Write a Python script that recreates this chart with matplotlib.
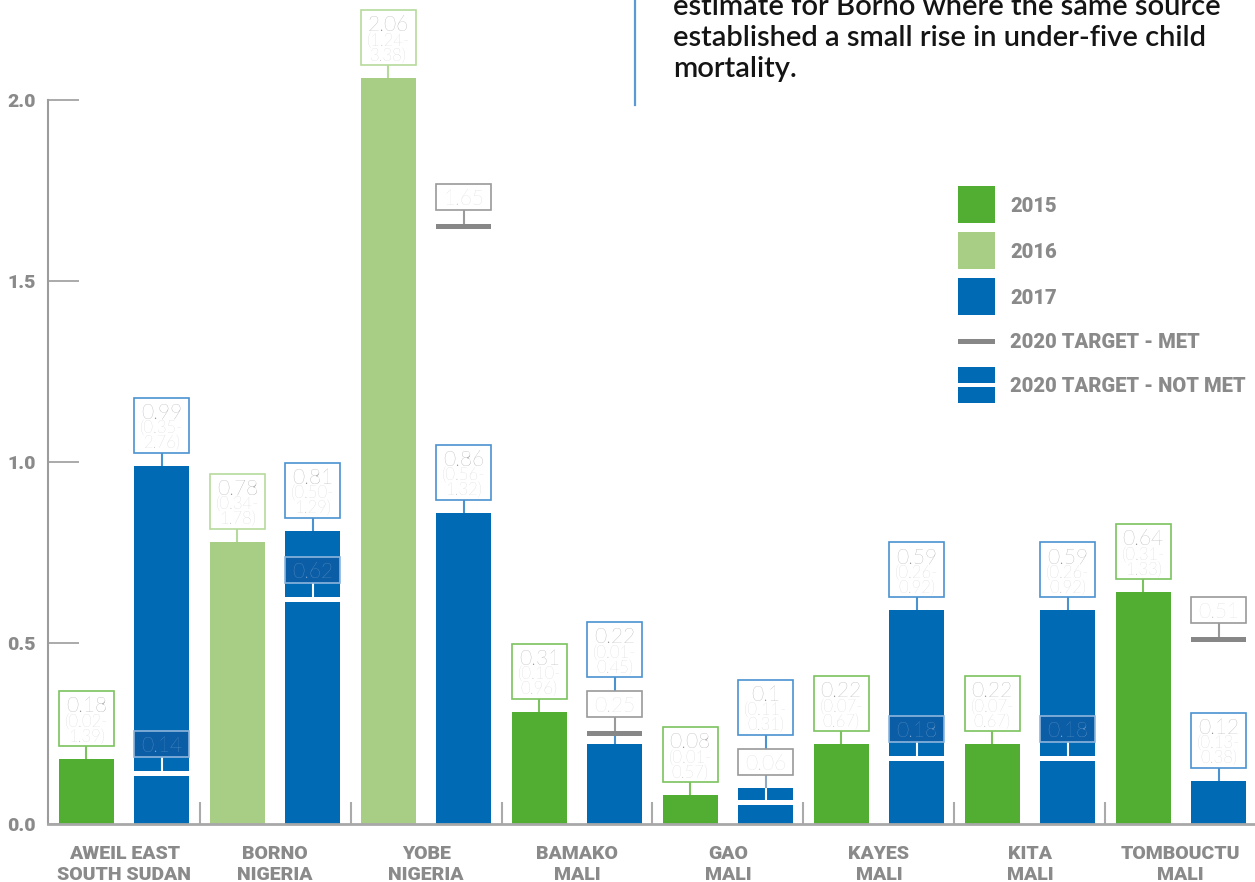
import matplotlib
matplotlib.use('Agg')
import matplotlib.pyplot as plt
from matplotlib.patches import Rectangle

# ---------------- data ----------------
regions = ['AWEIL EAST\nSOUTH SUDAN', 'BORNO\nNIGERIA', 'YOBE\nNIGERIA', 'BAMAKO\nMALI',
           'GAO\nMALI', 'KAYES\nMALI', 'KITA\nMALI', 'TOMBOUCTU\nMALI']
first_year = ['2015', '2016', '2016', '2015', '2015', '2015', '2015', '2015']
first_val = [0.18, 0.78, 2.06, 0.31, 0.08, 0.22, 0.22, 0.64]
first_lo = [0.02, 0.34, 1.24, 0.10, 0.01, 0.07, 0.07, 0.31]
first_hi = [1.39, 1.78, 3.38, 0.96, 0.57, 0.67, 0.67, 1.33]
val_2017 = [0.99, 0.81, 0.86, 0.22, 0.10, 0.59, 0.59, 0.12]
lo_2017 = [0.35, 0.50, 0.56, 0.01, 0.11, 0.26, 0.26, 0.13]
hi_2017 = [2.76, 1.29, 1.32, 0.45, 0.31, 0.92, 0.92, 0.38]
target_2020 = [0.14, 0.62, 1.65, 0.25, 0.06, 0.18, 0.18, 0.51]
target_met = [False, False, True, True, False, False, False, True]
yticks = [0.0, 0.5, 1.0, 1.5, 2.0]
ytick_labels = ['0.0', '0.5', '1.0', '1.5', '2.0']
legend_labels = ['2015', '2016', '2017', '2020 TARGET - MET', '2020 TARGET - NOT MET']
note_lines = ['estimate for Borno where the same source',
              'established a small rise in under-five child',
              'mortality.']

# ---------------- style ----------------
C2015 = '#52AE32'
C2016 = '#A8CE86'
C2017 = '#006AB4'
CMET = '#878787'
EDGE = {'2015': '#7CC35F', '2016': '#B6DA9C', '2017': '#4A92D0'}
BARC = {'2015': C2015, '2016': C2016, '2017': C2017}
VAL_C = '#8E8E8E'
RANGE_C = '#C4C4C4'
TGT_TXT = '#CFCFCF'
TGT_EDGE = '#9A9A9A'
IN_FILL = '#0B5DA5'
IN_EDGE = '#8DB5DD'
IN_TXT = '#86ADD8'
AXC = '#9C9C9C'
LABC = '#8A8A8A'
LATO = ['Lato', 'DejaVu Sans']
COND = ['Roboto', 'DejaVu Sans']

W_PX, H_PX = 1255, 882
fig = plt.figure(figsize=(W_PX / 100, H_PX / 100), dpi=100)
ax_left, ax_bottom, ax_right, ax_top = 48, 824, 1255, 0
ax = fig.add_axes([ax_left / W_PX, (H_PX - ax_bottom) / H_PX,
                   (ax_right - ax_left) / W_PX, (ax_bottom - ax_top) / H_PX])
PY = 1 / 362.0
PX = 1 / 75.5
ax.set_ylim(0, (ax_bottom - ax_top) * PY)
ax.set_xlim(-38.5 * PX, 15 + (1255 - 1218.5) * PX)

BW = 55 * PX
GAP = 13 * PY
H3 = 55 * PY
H1 = 26 * PY
MK = 2.6 * PY


def vline(x, y0, y1, color, lw=1.5, z=4):
    ax.plot([x, x], [y0, y1], color=color, lw=lw, zorder=z, solid_capstyle='butt')


def value_box(x, bottom, txt, lo, hi, edge):
    ax.add_patch(Rectangle((x - BW / 2, bottom), BW, H3, facecolor='white',
                           edgecolor=edge, lw=1.2, zorder=5))
    top = bottom + H3
    ax.text(x, top - 21 * PY, txt, ha='center', va='baseline', fontsize=15,
            color=VAL_C, family=LATO, weight='light', zorder=6)
    ax.text(x, top - 35.5 * PY, '(%.2f-' % lo, ha='center', va='baseline', fontsize=12,
            color=RANGE_C, family=LATO, weight='light', zorder=6)
    ax.text(x, top - 50.5 * PY, '%.2f)' % hi, ha='center', va='baseline', fontsize=12,
            color=RANGE_C, family=LATO, weight='light', zorder=6)
    return top


def small_box(x, bottom, txt, edge, fill, tcol):
    ax.add_patch(Rectangle((x - BW / 2, bottom), BW, H1, facecolor=fill,
                           edgecolor=edge, lw=1.2, zorder=5))
    ax.text(x, bottom + 5 * PY, txt, ha='center', va='baseline', fontsize=15,
            color=tcol, family=LATO, weight='light', zorder=6)
    return bottom + H1


for g in range(len(regions)):
    x1 = 2 * g
    x2 = 2 * g + 1
    yr = first_year[g]
    # first bar
    v = first_val[g]
    ax.bar(x1, v, width=BW, color=BARC[yr], zorder=2)
    b = v + GAP
    vline(x1, v, b, EDGE[yr])
    value_box(x1, b, '%g' % v, first_lo[g], first_hi[g], EDGE[yr])

    # 2017 bar
    v = val_2017[g]
    t = target_2020[g]
    ax.bar(x2, v, width=BW, color=C2017, zorder=2)
    vtxt = '%g' % v
    if target_met[g]:
        ax.bar(x2, 2 * MK, bottom=t - MK, width=BW, color=CMET, zorder=3)
        tb = t + MK + 14 * PY
        vline(x2, t + MK, tb, TGT_EDGE)
        ttop = small_box(x2, tb, '%g' % t, TGT_EDGE, 'white', TGT_TXT)
        cand = v + GAP
        if cand + H3 > t - MK - 2 * PY and cand < ttop:
            vline(x2, v, t - MK, EDGE['2017'])
            nb = ttop + 14 * PY
            vline(x2, ttop, nb, EDGE['2017'])
            value_box(x2, nb, vtxt, lo_2017[g], hi_2017[g], EDGE['2017'])
        else:
            vline(x2, v, cand, EDGE['2017'])
            value_box(x2, cand, vtxt, lo_2017[g], hi_2017[g], EDGE['2017'])
    else:
        ax.bar(x2, 2 * MK, bottom=t - MK, width=BW * 1.02, color='white', zorder=3)
        inside = (v - (t + MK)) > (14 + 26 + 6) * PY
        if inside:
            tb = t + MK + 14 * PY
            vline(x2, t + MK, tb, 'white', lw=1.5)
            small_box(x2, tb, '%g' % t, IN_EDGE, IN_FILL, IN_TXT)
            vline(x2, v, v + GAP, EDGE['2017'])
            value_box(x2, v + GAP, vtxt, lo_2017[g], hi_2017[g], EDGE['2017'])
        else:
            tb = v + GAP
            vline(x2, t + MK, v, 'white', lw=1.5)
            vline(x2, v, tb, '#8FA9C4')
            ttop = small_box(x2, tb, '%g' % t, TGT_EDGE, 'white', TGT_TXT)
            nb = ttop + 14 * PY
            vline(x2, ttop, nb, EDGE['2017'])
            value_box(x2, nb, vtxt, lo_2017[g], hi_2017[g], EDGE['2017'])

# group separators
for g in range(1, len(regions)):
    vline(2 * g - 0.5, 0, 22 * PY, '#AAAAAA', lw=1.5, z=1)

# axes styling
for s in ['top', 'right']:
    ax.spines[s].set_visible(False)
ax.spines['left'].set_bounds(0, 2.0)
ax.spines['left'].set_color(AXC)
ax.spines['left'].set_linewidth(1.5)
ax.spines['bottom'].set_color('#A8A8A8')
ax.spines['bottom'].set_linewidth(2)
ax.set_yticks(yticks)
ax.set_yticklabels(ytick_labels, family=COND, weight='black', fontsize=14, color=LABC)
ax.tick_params(axis='y', direction='in', length=22, width=1.2, color=AXC, pad=9)
ax.set_xticks([2 * g + 0.5 for g in range(len(regions))])
ax.set_xticklabels(regions, family=COND, weight='black', fontsize=14, color=LABC,
                   linespacing=1.2)
ax.tick_params(axis='x', length=0, pad=15)

# legend (drawn by hand, figure pixel coordinates)
def fig_rect(x0, y0, x1, y1, color):
    fig.add_artist(Rectangle((x0 / W_PX, 1 - y1 / H_PX), (x1 - x0) / W_PX, (y1 - y0) / H_PX,
                             transform=fig.transFigure, facecolor=color, edgecolor='none'))

fig_rect(958, 186, 995, 223, C2015)
fig_rect(958, 232, 995, 269, C2016)
fig_rect(958, 278, 995, 315, C2017)
fig_rect(958, 339, 995, 343.5, CMET)
fig_rect(958, 367, 995, 383, C2017)
fig_rect(958, 387, 995, 403, C2017)
for lab, yc in zip(legend_labels, [205, 250, 296, 341, 385]):
    fig.text(1010 / W_PX, 1 - yc / H_PX, lab, ha='left', va='center_baseline',
             family=COND, weight='black', fontsize=14.5, color=LABC)

# annotation text
for line, yb in zip(note_lines, [15, 46, 77]):
    fig.text(673 / W_PX, 1 - yb / H_PX, line, ha='left', va='baseline',
             family=LATO, weight='semibold', fontsize=21, color='#141414')
fig.add_artist(plt.Line2D([635.5 / W_PX, 635.5 / W_PX], [1, 1 - 105 / H_PX],
                          transform=fig.transFigure, color='#5B9BD5', lw=1.6))

fig.savefig('out.png', dpi=100)
